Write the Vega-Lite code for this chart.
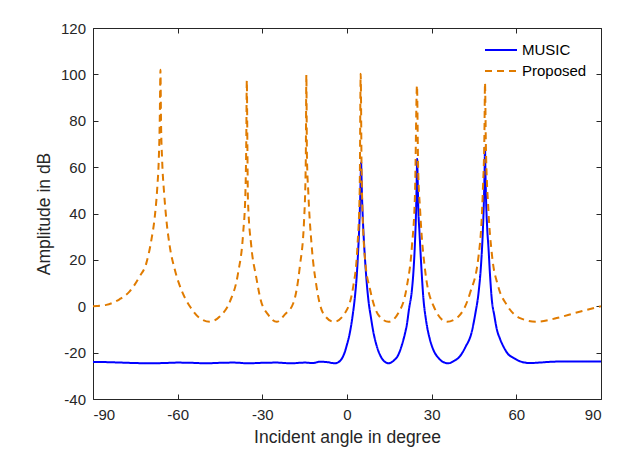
{
  "$schema": "https://vega.github.io/schema/vega-lite/v6.json",
  "width": 508,
  "height": 371,
  "autosize": "none",
  "padding": {"left": 93, "top": 28, "right": 35, "bottom": 52},
  "background": "white",
  "config": {
    "font": "Liberation Sans",
    "view": {"stroke": "#262626", "strokeWidth": 1},
    "axis": {
      "grid": false,
      "domain": false,
      "tickSize": -5,
      "tickColor": "#262626",
      "labelFontSize": 15,
      "labelColor": "#262626",
      "titleFontSize": 17.5,
      "titleFontWeight": "normal",
      "titleColor": "#262626"
    }
  },
  "data": {
    "values": [
      {"angle": -90, "amp": -24.0, "method": "MUSIC"},
      {"angle": -85, "amp": -24.1, "method": "MUSIC"},
      {"angle": -80, "amp": -24.3, "method": "MUSIC"},
      {"angle": -75, "amp": -24.5, "method": "MUSIC"},
      {"angle": -70, "amp": -24.6, "method": "MUSIC"},
      {"angle": -65, "amp": -24.5, "method": "MUSIC"},
      {"angle": -60, "amp": -24.3, "method": "MUSIC"},
      {"angle": -55, "amp": -24.4, "method": "MUSIC"},
      {"angle": -50, "amp": -24.6, "method": "MUSIC"},
      {"angle": -45, "amp": -24.4, "method": "MUSIC"},
      {"angle": -40, "amp": -24.3, "method": "MUSIC"},
      {"angle": -35, "amp": -24.6, "method": "MUSIC"},
      {"angle": -30, "amp": -24.4, "method": "MUSIC"},
      {"angle": -25, "amp": -24.3, "method": "MUSIC"},
      {"angle": -20, "amp": -24.6, "method": "MUSIC"},
      {"angle": -15, "amp": -24.3, "method": "MUSIC"},
      {"angle": -12, "amp": -24.5, "method": "MUSIC"},
      {"angle": -9.6, "amp": -23.9, "method": "MUSIC"},
      {"angle": -7, "amp": -24.1, "method": "MUSIC"},
      {"angle": -4.2, "amp": -24.6, "method": "MUSIC"},
      {"angle": -2.5, "amp": -23.6, "method": "MUSIC"},
      {"angle": -1, "amp": -20.5, "method": "MUSIC"},
      {"angle": 0, "amp": -16.5, "method": "MUSIC"},
      {"angle": 1, "amp": -11.5, "method": "MUSIC"},
      {"angle": 2, "amp": -4, "method": "MUSIC"},
      {"angle": 2.8, "amp": 4, "method": "MUSIC"},
      {"angle": 3.5, "amp": 14, "method": "MUSIC"},
      {"angle": 4, "amp": 25, "method": "MUSIC"},
      {"angle": 4.4, "amp": 36, "method": "MUSIC"},
      {"angle": 4.7, "amp": 48, "method": "MUSIC"},
      {"angle": 4.9, "amp": 58, "method": "MUSIC"},
      {"angle": 5, "amp": 62, "method": "MUSIC"},
      {"angle": 5.1, "amp": 58, "method": "MUSIC"},
      {"angle": 5.3, "amp": 48, "method": "MUSIC"},
      {"angle": 5.6, "amp": 38, "method": "MUSIC"},
      {"angle": 6, "amp": 28, "method": "MUSIC"},
      {"angle": 6.4, "amp": 20, "method": "MUSIC"},
      {"angle": 7, "amp": 10, "method": "MUSIC"},
      {"angle": 7.6, "amp": 2.5, "method": "MUSIC"},
      {"angle": 8.5, "amp": -5, "method": "MUSIC"},
      {"angle": 9.4, "amp": -11.5, "method": "MUSIC"},
      {"angle": 10.5, "amp": -17, "method": "MUSIC"},
      {"angle": 11.7, "amp": -21, "method": "MUSIC"},
      {"angle": 13, "amp": -23.5, "method": "MUSIC"},
      {"angle": 14.7, "amp": -24.6, "method": "MUSIC"},
      {"angle": 16.5, "amp": -23.5, "method": "MUSIC"},
      {"angle": 18.2, "amp": -20.9, "method": "MUSIC"},
      {"angle": 19.5, "amp": -16.5, "method": "MUSIC"},
      {"angle": 20.5, "amp": -12, "method": "MUSIC"},
      {"angle": 21.2, "amp": -8, "method": "MUSIC"},
      {"angle": 22, "amp": -1, "method": "MUSIC"},
      {"angle": 23, "amp": 7, "method": "MUSIC"},
      {"angle": 23.6, "amp": 16, "method": "MUSIC"},
      {"angle": 24.1, "amp": 28, "method": "MUSIC"},
      {"angle": 24.4, "amp": 38, "method": "MUSIC"},
      {"angle": 24.6, "amp": 48, "method": "MUSIC"},
      {"angle": 24.75, "amp": 58, "method": "MUSIC"},
      {"angle": 24.85, "amp": 63.5, "method": "MUSIC"},
      {"angle": 25, "amp": 57, "method": "MUSIC"},
      {"angle": 25.2, "amp": 45, "method": "MUSIC"},
      {"angle": 25.7, "amp": 31.5, "method": "MUSIC"},
      {"angle": 26.2, "amp": 20, "method": "MUSIC"},
      {"angle": 27.1, "amp": 3, "method": "MUSIC"},
      {"angle": 28, "amp": -6, "method": "MUSIC"},
      {"angle": 29.4, "amp": -14.4, "method": "MUSIC"},
      {"angle": 30.5, "amp": -18.5, "method": "MUSIC"},
      {"angle": 32.4, "amp": -22.3, "method": "MUSIC"},
      {"angle": 34, "amp": -24, "method": "MUSIC"},
      {"angle": 35.9, "amp": -24.6, "method": "MUSIC"},
      {"angle": 38, "amp": -23.5, "method": "MUSIC"},
      {"angle": 40, "amp": -21.6, "method": "MUSIC"},
      {"angle": 42, "amp": -17.5, "method": "MUSIC"},
      {"angle": 44.1, "amp": -11.5, "method": "MUSIC"},
      {"angle": 45.5, "amp": -3, "method": "MUSIC"},
      {"angle": 46.6, "amp": 5.7, "method": "MUSIC"},
      {"angle": 47.5, "amp": 18, "method": "MUSIC"},
      {"angle": 48.1, "amp": 31.5, "method": "MUSIC"},
      {"angle": 48.5, "amp": 45, "method": "MUSIC"},
      {"angle": 48.75, "amp": 58, "method": "MUSIC"},
      {"angle": 48.9, "amp": 68.5, "method": "MUSIC"},
      {"angle": 49.05, "amp": 58, "method": "MUSIC"},
      {"angle": 49.3, "amp": 45, "method": "MUSIC"},
      {"angle": 49.7, "amp": 33, "method": "MUSIC"},
      {"angle": 50.1, "amp": 25.8, "method": "MUSIC"},
      {"angle": 50.7, "amp": 13, "method": "MUSIC"},
      {"angle": 51.3, "amp": 3, "method": "MUSIC"},
      {"angle": 52.2, "amp": -4, "method": "MUSIC"},
      {"angle": 53.1, "amp": -10, "method": "MUSIC"},
      {"angle": 54.2, "amp": -14, "method": "MUSIC"},
      {"angle": 55.4, "amp": -17.3, "method": "MUSIC"},
      {"angle": 57, "amp": -20.5, "method": "MUSIC"},
      {"angle": 59, "amp": -22.3, "method": "MUSIC"},
      {"angle": 62, "amp": -24, "method": "MUSIC"},
      {"angle": 64.9, "amp": -24.5, "method": "MUSIC"},
      {"angle": 68, "amp": -24.3, "method": "MUSIC"},
      {"angle": 73.2, "amp": -23.9, "method": "MUSIC"},
      {"angle": 80, "amp": -23.8, "method": "MUSIC"},
      {"angle": 85, "amp": -23.8, "method": "MUSIC"},
      {"angle": 90, "amp": -23.8, "method": "MUSIC"},

      {"angle": -90, "amp": 0, "method": "Proposed"},
      {"angle": -85.3, "amp": 0.6, "method": "Proposed"},
      {"angle": -80.6, "amp": 3, "method": "Proposed"},
      {"angle": -77, "amp": 6.4, "method": "Proposed"},
      {"angle": -73.5, "amp": 12.8, "method": "Proposed"},
      {"angle": -71.1, "amp": 18.6, "method": "Proposed"},
      {"angle": -69.3, "amp": 28.7, "method": "Proposed"},
      {"angle": -68.1, "amp": 38.7, "method": "Proposed"},
      {"angle": -67.2, "amp": 51.6, "method": "Proposed"},
      {"angle": -66.7, "amp": 63, "method": "Proposed"},
      {"angle": -66.35, "amp": 80, "method": "Proposed"},
      {"angle": -66.1, "amp": 102, "method": "Proposed"},
      {"angle": -65.9, "amp": 80, "method": "Proposed"},
      {"angle": -65.5, "amp": 63, "method": "Proposed"},
      {"angle": -64.8, "amp": 48.8, "method": "Proposed"},
      {"angle": -64, "amp": 37.3, "method": "Proposed"},
      {"angle": -62.8, "amp": 25.8, "method": "Proposed"},
      {"angle": -61, "amp": 15.7, "method": "Proposed"},
      {"angle": -58.7, "amp": 7.1, "method": "Proposed"},
      {"angle": -55.7, "amp": 0, "method": "Proposed"},
      {"angle": -52.2, "amp": -5.1, "method": "Proposed"},
      {"angle": -48.6, "amp": -6.7, "method": "Proposed"},
      {"angle": -45.1, "amp": -4.4, "method": "Proposed"},
      {"angle": -41.5, "amp": 2, "method": "Proposed"},
      {"angle": -38.6, "amp": 14.3, "method": "Proposed"},
      {"angle": -36.8, "amp": 31.5, "method": "Proposed"},
      {"angle": -36, "amp": 48.8, "method": "Proposed"},
      {"angle": -35.7, "amp": 70, "method": "Proposed"},
      {"angle": -35.5, "amp": 97.5, "method": "Proposed"},
      {"angle": -35.3, "amp": 70, "method": "Proposed"},
      {"angle": -35.1, "amp": 45.9, "method": "Proposed"},
      {"angle": -33.9, "amp": 25.8, "method": "Proposed"},
      {"angle": -32.2, "amp": 12.8, "method": "Proposed"},
      {"angle": -30.6, "amp": 2.8, "method": "Proposed"},
      {"angle": -28, "amp": -3.5, "method": "Proposed"},
      {"angle": -24.9, "amp": -6.7, "method": "Proposed"},
      {"angle": -22, "amp": -3.5, "method": "Proposed"},
      {"angle": -19, "amp": 1.4, "method": "Proposed"},
      {"angle": -16.7, "amp": 17.2, "method": "Proposed"},
      {"angle": -15.2, "amp": 37.3, "method": "Proposed"},
      {"angle": -14.6, "amp": 63, "method": "Proposed"},
      {"angle": -14.4, "amp": 99.8, "method": "Proposed"},
      {"angle": -14.2, "amp": 65, "method": "Proposed"},
      {"angle": -13.7, "amp": 48.8, "method": "Proposed"},
      {"angle": -12.5, "amp": 25.8, "method": "Proposed"},
      {"angle": -10.8, "amp": 8.5, "method": "Proposed"},
      {"angle": -8.5, "amp": -2.9, "method": "Proposed"},
      {"angle": -4.6, "amp": -6.7, "method": "Proposed"},
      {"angle": -0.7, "amp": -2.9, "method": "Proposed"},
      {"angle": 2.2, "amp": 8.5, "method": "Proposed"},
      {"angle": 3.7, "amp": 25.8, "method": "Proposed"},
      {"angle": 4.5, "amp": 50, "method": "Proposed"},
      {"angle": 4.85, "amp": 100.3, "method": "Proposed"},
      {"angle": 5.2, "amp": 55, "method": "Proposed"},
      {"angle": 6.4, "amp": 20, "method": "Proposed"},
      {"angle": 8.2, "amp": 7.1, "method": "Proposed"},
      {"angle": 11.1, "amp": -3.7, "method": "Proposed"},
      {"angle": 14.7, "amp": -6.7, "method": "Proposed"},
      {"angle": 18.2, "amp": -2.9, "method": "Proposed"},
      {"angle": 21.2, "amp": 8.5, "method": "Proposed"},
      {"angle": 23, "amp": 25.8, "method": "Proposed"},
      {"angle": 24.1, "amp": 48.8, "method": "Proposed"},
      {"angle": 24.8, "amp": 95.3, "method": "Proposed"},
      {"angle": 25.2, "amp": 60, "method": "Proposed"},
      {"angle": 25.9, "amp": 41.6, "method": "Proposed"},
      {"angle": 27.8, "amp": 14.3, "method": "Proposed"},
      {"angle": 30.7, "amp": 0, "method": "Proposed"},
      {"angle": 35.4, "amp": -6.7, "method": "Proposed"},
      {"angle": 39.5, "amp": -4.4, "method": "Proposed"},
      {"angle": 43.6, "amp": 5.7, "method": "Proposed"},
      {"angle": 46.6, "amp": 21.5, "method": "Proposed"},
      {"angle": 48.1, "amp": 48.8, "method": "Proposed"},
      {"angle": 48.7, "amp": 75, "method": "Proposed"},
      {"angle": 48.9, "amp": 96.3, "method": "Proposed"},
      {"angle": 49.2, "amp": 70, "method": "Proposed"},
      {"angle": 50.1, "amp": 41.6, "method": "Proposed"},
      {"angle": 51.3, "amp": 22.9, "method": "Proposed"},
      {"angle": 53.6, "amp": 8.5, "method": "Proposed"},
      {"angle": 56.6, "amp": 0.6, "method": "Proposed"},
      {"angle": 61.3, "amp": -5.1, "method": "Proposed"},
      {"angle": 67.2, "amp": -6.7, "method": "Proposed"},
      {"angle": 74.3, "amp": -5.1, "method": "Proposed"},
      {"angle": 81.4, "amp": -2.7, "method": "Proposed"},
      {"angle": 90, "amp": 0, "method": "Proposed"}
    ]
  },
  "layer": [
    {
      "mark": {"type": "line", "strokeWidth": 2, "clip": true, "interpolate": "monotone"},
      "encoding": {
        "x": {
          "field": "angle", "type": "quantitative",
          "scale": {"domain": [-90, 90], "nice": false, "zero": false},
          "axis": {"orient": "bottom", "values": [-90, -60, -30, 0, 30, 60, 90], "labelExpr": "'' + datum.value", "title": "Incident angle in degree", "labelPadding": 13, "titlePadding": 6}
        },
        "y": {
          "field": "amp", "type": "quantitative",
          "scale": {"domain": [-40, 120], "nice": false, "zero": false},
          "axis": {"orient": "left", "values": [-40, -20, 0, 20, 40, 60, 80, 100, 120], "labelExpr": "'' + datum.value", "title": "Amplitude in dB", "labelPadding": 12.5, "titlePadding": 7}
        },
        "color": {
          "field": "method", "type": "nominal",
          "scale": {"domain": ["MUSIC", "Proposed"], "range": ["#0000FF", "#E07B00"]},
          "legend": {
            "title": null, "orient": "top-right", "offset": 14,
            "symbolType": "stroke", "symbolSize": 1024, "symbolStrokeWidth": 2,
            "clipHeight": 16, "rowPadding": 5, "labelFontSize": 15, "labelColor": "#000000", "labelOffset": 4
          }
        },
        "strokeDash": {
          "field": "method", "type": "nominal",
          "scale": {"domain": ["MUSIC", "Proposed"], "range": [[1, 0], [7, 5]]},
          "legend": {
            "title": null, "orient": "top-right", "offset": 14,
            "symbolType": "stroke", "symbolSize": 1024, "symbolStrokeWidth": 2,
            "clipHeight": 16, "rowPadding": 5, "labelFontSize": 15, "labelColor": "#000000", "labelOffset": 4
          }
        },
        "order": {"field": "angle", "type": "quantitative"}
      }
    },
    {
      "mark": {"type": "point", "opacity": 0},
      "encoding": {
        "x": {
          "field": "angle", "type": "quantitative",
          "axis": {"orient": "top", "values": [-90, -60, -30, 0, 30, 60, 90], "labels": false, "title": null}
        },
        "y": {
          "field": "amp", "type": "quantitative",
          "axis": {"orient": "right", "values": [-40, -20, 0, 20, 40, 60, 80, 100, 120], "labels": false, "title": null}
        }
      }
    }
  ],
  "resolve": {"axis": {"x": "independent", "y": "independent"}}
}
